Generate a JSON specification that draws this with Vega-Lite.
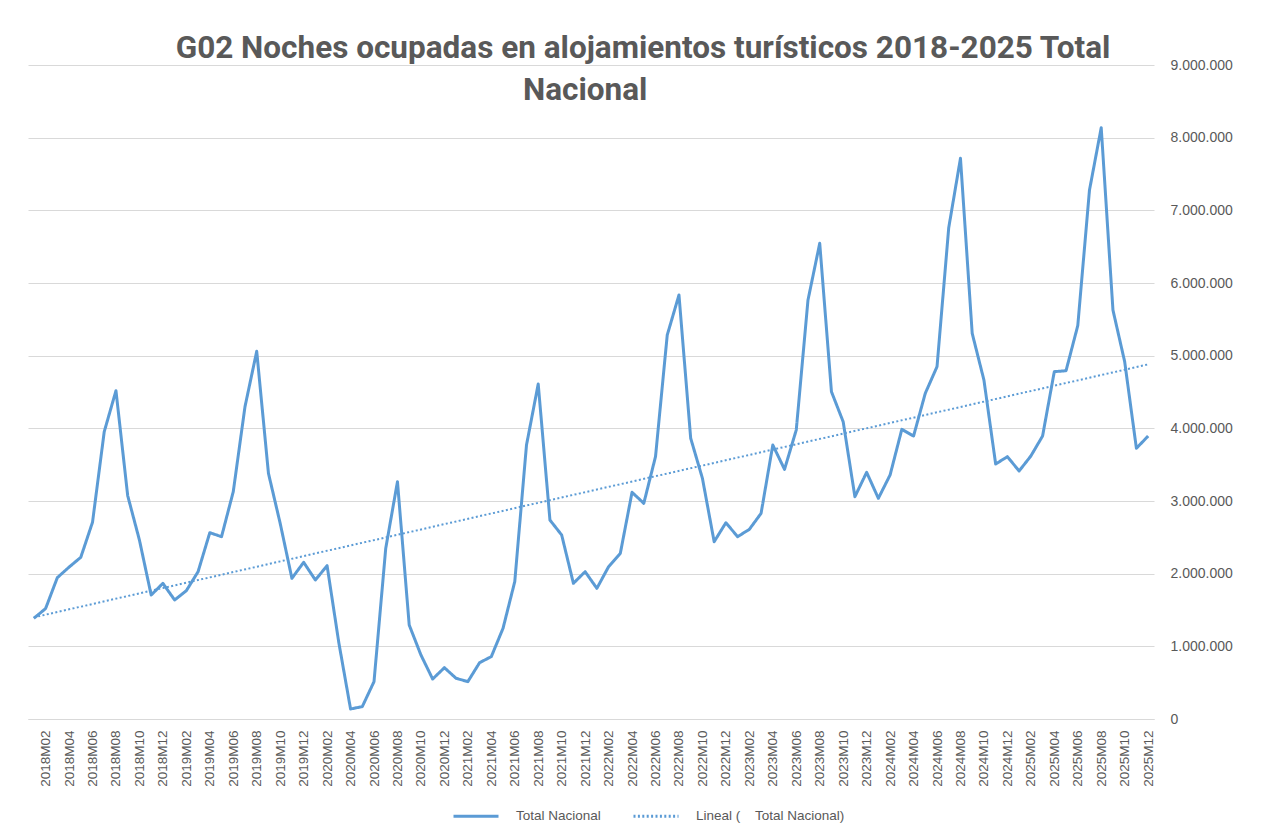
{
  "$schema": "https://vega.github.io/schema/vega-lite/v6.json",
  "autosize": "none",
  "width": 1126,
  "height": 654,
  "padding": {"left": 28, "top": 65, "right": 113, "bottom": 115},
  "background": "white",
  "config": {
    "view": {"stroke": null},
    "locale": {"number": {"decimal": ",", "thousands": ".", "grouping": [3], "currency": ["", " €"]}},
    "font": "Liberation Sans",
    "axisX": {
      "title": null,
      "grid": false,
      "ticks": false,
      "domain": true,
      "domainColor": "#d9d9d9",
      "domainWidth": 1,
      "labelAngle": -90,
      "labelAlign": "right",
      "labelBaseline": "middle",
      "labelFontSize": 13.5,
      "labelColor": "#595959",
      "labelPadding": 11,
      "labelOverlap": false,
      "labelFlush": false
    },
    "axisY": {
      "title": null,
      "grid": true,
      "gridColor": "#d9d9d9",
      "gridWidth": 1,
      "domain": false,
      "ticks": false,
      "labelAlign": "left",
      "labelFontSize": 14,
      "labelColor": "#595959",
      "labelPadding": 16
    }
  },
  "title": {
    "text": "G02 Noches ocupadas en alojamientos turísticos 2018-2025 Total",
    "font": "Roboto",
    "fontSize": 31.5,
    "fontWeight": "bold",
    "color": "#595959",
    "anchor": "middle",
    "offset": -6,
    "dx": 52
  },
  "datasets": {
    "titulo": [{"linea2": "Nacional"}]
  },
  "data": {
    "values": [
      {"t": 1, "mes": "2018M01", "v": 1386000}, {"t": 2, "mes": "2018M02", "v": 1520000}, {"t": 3, "mes": "2018M03", "v": 1945000}, {"t": 4, "mes": "2018M04", "v": 2090000},
      {"t": 5, "mes": "2018M05", "v": 2225000}, {"t": 6, "mes": "2018M06", "v": 2707000}, {"t": 7, "mes": "2018M07", "v": 3954000}, {"t": 8, "mes": "2018M08", "v": 4518000},
      {"t": 9, "mes": "2018M09", "v": 3073000}, {"t": 10, "mes": "2018M10", "v": 2463000}, {"t": 11, "mes": "2018M11", "v": 1706000}, {"t": 12, "mes": "2018M12", "v": 1867000},
      {"t": 13, "mes": "2019M01", "v": 1638000}, {"t": 14, "mes": "2019M02", "v": 1766000}, {"t": 15, "mes": "2019M03", "v": 2027000}, {"t": 16, "mes": "2019M04", "v": 2564000},
      {"t": 17, "mes": "2019M05", "v": 2509000}, {"t": 18, "mes": "2019M06", "v": 3128000}, {"t": 19, "mes": "2019M07", "v": 4298000}, {"t": 20, "mes": "2019M08", "v": 5060000},
      {"t": 21, "mes": "2019M09", "v": 3381000}, {"t": 22, "mes": "2019M10", "v": 2693000}, {"t": 23, "mes": "2019M11", "v": 1936000}, {"t": 24, "mes": "2019M12", "v": 2156000},
      {"t": 25, "mes": "2020M01", "v": 1913000}, {"t": 26, "mes": "2020M02", "v": 2110000}, {"t": 27, "mes": "2020M03", "v": 1050000}, {"t": 28, "mes": "2020M04", "v": 138000},
      {"t": 29, "mes": "2020M05", "v": 170000}, {"t": 30, "mes": "2020M06", "v": 514000}, {"t": 31, "mes": "2020M07", "v": 2349000}, {"t": 32, "mes": "2020M08", "v": 3266000},
      {"t": 33, "mes": "2020M09", "v": 1294000}, {"t": 34, "mes": "2020M10", "v": 881000}, {"t": 35, "mes": "2020M11", "v": 550000}, {"t": 36, "mes": "2020M12", "v": 706000},
      {"t": 37, "mes": "2021M01", "v": 560000}, {"t": 38, "mes": "2021M02", "v": 514000}, {"t": 39, "mes": "2021M03", "v": 775000}, {"t": 40, "mes": "2021M04", "v": 858000},
      {"t": 41, "mes": "2021M05", "v": 1248000}, {"t": 42, "mes": "2021M06", "v": 1890000}, {"t": 43, "mes": "2021M07", "v": 3770000}, {"t": 44, "mes": "2021M08", "v": 4610000},
      {"t": 45, "mes": "2021M09", "v": 2738000}, {"t": 46, "mes": "2021M10", "v": 2532000}, {"t": 47, "mes": "2021M11", "v": 1867000}, {"t": 48, "mes": "2021M12", "v": 2027000},
      {"t": 49, "mes": "2022M01", "v": 1798000}, {"t": 50, "mes": "2022M02", "v": 2096000}, {"t": 51, "mes": "2022M03", "v": 2280000}, {"t": 52, "mes": "2022M04", "v": 3120000},
      {"t": 53, "mes": "2022M05", "v": 2968000}, {"t": 54, "mes": "2022M06", "v": 3610000}, {"t": 55, "mes": "2022M07", "v": 5284000}, {"t": 56, "mes": "2022M08", "v": 5835000},
      {"t": 57, "mes": "2022M09", "v": 3863000}, {"t": 58, "mes": "2022M10", "v": 3312000}, {"t": 59, "mes": "2022M11", "v": 2440000}, {"t": 60, "mes": "2022M12", "v": 2701000},
      {"t": 61, "mes": "2023M01", "v": 2509000}, {"t": 62, "mes": "2023M02", "v": 2610000}, {"t": 63, "mes": "2023M03", "v": 2830000}, {"t": 64, "mes": "2023M04", "v": 3770000},
      {"t": 65, "mes": "2023M05", "v": 3436000}, {"t": 66, "mes": "2023M06", "v": 3977000}, {"t": 67, "mes": "2023M07", "v": 5766000}, {"t": 68, "mes": "2023M08", "v": 6546000},
      {"t": 69, "mes": "2023M09", "v": 4504000}, {"t": 70, "mes": "2023M10", "v": 4091000}, {"t": 71, "mes": "2023M11", "v": 3059000}, {"t": 72, "mes": "2023M12", "v": 3395000},
      {"t": 73, "mes": "2024M01", "v": 3037000}, {"t": 74, "mes": "2024M02", "v": 3358000}, {"t": 75, "mes": "2024M03", "v": 3986000}, {"t": 76, "mes": "2024M04", "v": 3894000},
      {"t": 77, "mes": "2024M05", "v": 4482000}, {"t": 78, "mes": "2024M06", "v": 4848000}, {"t": 79, "mes": "2024M07", "v": 6761000}, {"t": 80, "mes": "2024M08", "v": 7716000},
      {"t": 81, "mes": "2024M09", "v": 5307000}, {"t": 82, "mes": "2024M10", "v": 4665000}, {"t": 83, "mes": "2024M11", "v": 3509000}, {"t": 84, "mes": "2024M12", "v": 3610000},
      {"t": 85, "mes": "2025M01", "v": 3413000}, {"t": 86, "mes": "2025M02", "v": 3619000}, {"t": 87, "mes": "2025M03", "v": 3894000}, {"t": 88, "mes": "2025M04", "v": 4780000},
      {"t": 89, "mes": "2025M05", "v": 4793000}, {"t": 90, "mes": "2025M06", "v": 5412000}, {"t": 91, "mes": "2025M07", "v": 7279000}, {"t": 92, "mes": "2025M08", "v": 8137000},
      {"t": 93, "mes": "2025M09", "v": 5628000}, {"t": 94, "mes": "2025M10", "v": 4917000}, {"t": 95, "mes": "2025M11", "v": 3725000}, {"t": 96, "mes": "2025M12", "v": 3894000}
    ]
  },
  "layer": [
    {
      "mark": {"type": "line", "color": "#5b9bd5", "strokeWidth": 3, "strokeJoin": "round"},
      "encoding": {
        "x": {
          "field": "t",
          "type": "quantitative",
          "scale": {"domain": [0.5, 96.5], "nice": false, "zero": false},
          "axis": {
            "values": [2,4,6,8,10,12,14,16,18,20,22,24,26,28,30,32,34,36,38,40,42,44,46,48,50,52,54,56,58,60,62,64,66,68,70,72,74,76,78,80,82,84,86,88,90,92,94,96],
            "labelExpr": "(2018 + floor((datum.value - 1) / 12)) + 'M' + pad((datum.value - 1) % 12 + 1, 2, '0', 'left')"
          }
        },
        "y": {
          "field": "v",
          "type": "quantitative",
          "scale": {"domain": [0, 9000000], "nice": false},
          "axis": {
            "orient": "right",
            "values": [0,1000000,2000000,3000000,4000000,5000000,6000000,7000000,8000000,9000000],
            "format": ",d"
          }
        },
        "strokeDash": {
          "datum": "Total Nacional",
          "type": "nominal",
          "scale": {"domain": ["Total Nacional", "Lineal (\u00a0\u00a0\u00a0 Total Nacional)"], "range": [[1, 0], [2, 2.4]]},
          "legend": {
            "title": null,
            "orient": "none",
            "direction": "horizontal",
            "legendX": 424,
            "legendY": 727,
            "symbolType": "stroke",
            "symbolSize": 2025,
            "symbolStrokeColor": "#5b9bd5",
            "symbolStrokeWidth": 3,
            "labelFontSize": 13.5,
            "labelColor": "#595959",
            "labelOffset": 16,
            "columnPadding": 26
          }
        }
      }
    },
    {
      "transform": [{"regression": "v", "on": "t"}],
      "mark": {"type": "line", "color": "#5b9bd5", "strokeWidth": 2},
      "encoding": {
        "x": {
          "field": "t",
          "type": "quantitative",
          "axis": {
            "values": [2,4,6,8,10,12,14,16,18,20,22,24,26,28,30,32,34,36,38,40,42,44,46,48,50,52,54,56,58,60,62,64,66,68,70,72,74,76,78,80,82,84,86,88,90,92,94,96],
            "labelExpr": "(2018 + floor((datum.value - 1) / 12)) + 'M' + pad((datum.value - 1) % 12 + 1, 2, '0', 'left')"
          }
        },
        "y": {
          "field": "v",
          "type": "quantitative",
          "axis": {
            "orient": "right",
            "values": [0,1000000,2000000,3000000,4000000,5000000,6000000,7000000,8000000,9000000],
            "format": ",d"
          }
        },
        "strokeDash": {"datum": "Lineal (\u00a0\u00a0\u00a0 Total Nacional)", "type": "nominal"}
      }
    },
    {
      "data": {"name": "titulo"},
      "mark": {"type": "text", "font": "Roboto", "fontSize": 31.5, "fontWeight": "bold", "fill": "#595959", "align": "center", "baseline": "alphabetic", "clip": false},
      "encoding": {
        "x": {
          "datum": 48,
          "type": "quantitative",
          "axis": {
            "values": [2,4,6,8,10,12,14,16,18,20,22,24,26,28,30,32,34,36,38,40,42,44,46,48,50,52,54,56,58,60,62,64,66,68,70,72,74,76,78,80,82,84,86,88,90,92,94,96],
            "labelExpr": "(2018 + floor((datum.value - 1) / 12)) + 'M' + pad((datum.value - 1) % 12 + 1, 2, '0', 'left')"
          }
        },
        "y": {
          "datum": 8520000,
          "type": "quantitative",
          "axis": {
            "orient": "right",
            "values": [0,1000000,2000000,3000000,4000000,5000000,6000000,7000000,8000000,9000000],
            "format": ",d"
          }
        },
        "text": {"field": "linea2", "type": "nominal"}
      }
    }
  ]
}
